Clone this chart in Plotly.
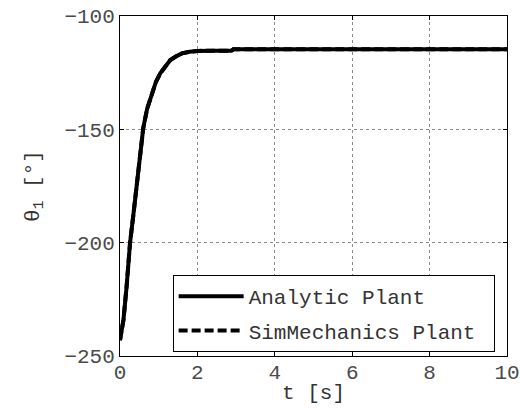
import plotly.graph_objects as go

t_s = [0, 0.09, 0.17, 0.26, 0.35, 0.43, 0.52, 0.6, 0.7, 0.82, 0.93, 1.04, 1.17,
       1.3, 1.45, 1.6, 1.8, 2.0, 2.4, 2.88, 2.93, 4, 6, 8, 10]
theta_analytic = [-243, -234, -219.5, -200, -187, -175.3, -162, -149.5, -141, -134,
                  -129, -125.3, -122, -119.4, -117.8, -116.5, -115.8, -115.4, -115.3,
                  -115.3, -114.7, -114.7, -114.7, -114.7, -114.7]
theta_simmech = [-243, -234, -219.5, -200, -187, -175.3, -162, -149.5, -141, -134,
                 -129, -125.3, -122, -119.4, -117.8, -116.5, -115.8, -115.4, -115.3,
                 -115.3, -114.7, -114.7, -114.7, -114.7, -114.7]

x_ticks = [0, 2, 4, 6, 8, 10]
y_ticks = [-250, -200, -150, -100]

FONT = "Liberation Mono, Courier New, monospace"

fig = go.Figure()
fig.add_trace(go.Scatter(x=t_s, y=theta_analytic, mode="lines", name="Analytic Plant",
                         legendgroup="a", line=dict(color="black", width=4)))
fig.add_trace(go.Scatter(x=t_s, y=theta_simmech, mode="lines", name="SimMechanics Plant\u00a0",
                         legendgroup="b", line=dict(color="black", width=4, dash="9px,4px")))

axis_common = dict(
    showline=True, linecolor="black", linewidth=1, mirror="ticks",
    ticks="inside", ticklen=4, tickcolor="black",
    showgrid=True, gridcolor="#8c8c8c", griddash="dot", gridwidth=1,
    zeroline=False, automargin=False, ticklabeloverflow="allow",
    tickfont=dict(family=FONT, size=21, color="#4a4a4a"),
)

fig.update_xaxes(range=[0, 10], tickvals=x_ticks, **axis_common, ticklabelstandoff=-3,
                 title=dict(text="t [s]", font=dict(family=FONT, size=21, color="#333"),
                            standoff=0))
fig.update_yaxes(range=[-250, -100], tickvals=y_ticks, **axis_common, ticklabelstandoff=0,
                 title=dict(text="θ<sub>1</sub> [°]", font=dict(family=FONT, size=21, color="#333"),
                            standoff=19))

fig.update_layout(
    width=520, height=416,
    margin=dict(l=120, r=13, t=16, b=60),
    paper_bgcolor="white", plot_bgcolor="white",
    showlegend=True,
    legend=dict(x=0.136, y=0.238, xanchor="left", yanchor="top",
                bordercolor="black", borderwidth=1, bgcolor="white",
                font=dict(family=FONT, size=21, color="#333"),
                itemwidth=65, tracegroupgap=4),
)

fig.write_html("out.html", config={"displayModeBar": False},
               post_script="document.body.style.margin='0';")
